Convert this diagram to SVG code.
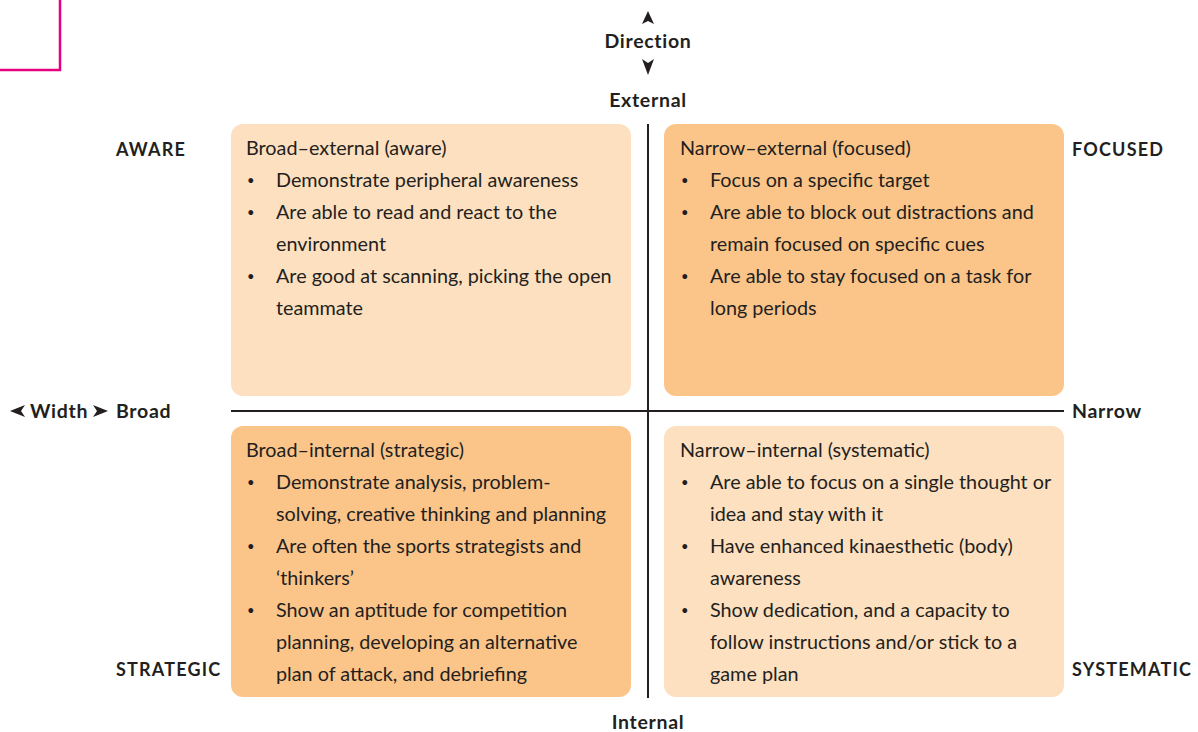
<svg xmlns="http://www.w3.org/2000/svg" width="1198" height="732" viewBox="0 0 1198 732">
<style>
.t{font-family:Lato,"Noto Sans",sans-serif;font-size:19.8px;fill:#231f20}
.bu{font-size:13px}
.b{font-family:Lato,"Noto Sans",sans-serif;font-size:18px;font-weight:bold;fill:#231f20;letter-spacing:1.2px}
.w{font-size:19.5px;letter-spacing:0.7px}
.light{fill:#fde0bf}
.dark{fill:#fbc58a}
.ax{stroke:#231f20;stroke-width:2;fill:none}
.ah{fill:#231f20}
</style>
<g id="corner"><path d="M0 70 H60 V0" fill="none" stroke="#e6007e" stroke-width="2.5"/></g>
<g id="connectors">
<line class="ax" x1="648" y1="124" x2="648" y2="698"/>
<line class="ax" x1="231" y1="411" x2="1064" y2="411"/>
</g>
<g id="axis-labels">
<path class="ah" d="M648 11 L654 24 L648 21 L642 24 Z"/>
<text class="b w" x="648" y="48" text-anchor="middle">Direction</text>
<path class="ah" d="M648 75 L654 59 L648 63 L642 59 Z"/>
<text class="b w" x="648" y="107" text-anchor="middle">External</text>
<text class="b w" x="648" y="729" text-anchor="middle">Internal</text>
<path class="ah" d="M10 411 L25 405 L21 411 L25 417 Z"/>
<text class="b w" x="30" y="418">Width</text>
<path class="ah" d="M108 411 L93 405 L97 411 L93 417 Z"/>
<text class="b w" x="116" y="418">Broad</text>
<text class="b w" x="1072" y="418">Narrow</text>
<text class="b" x="116" y="156">AWARE</text>
<text class="b" x="1072" y="156">FOCUSED</text>
<text class="b" x="116" y="676">STRATEGIC</text>
<text class="b" x="1072" y="676">SYSTEMATIC</text>
</g>
<g id="aware">
<rect class="light" x="231" y="124" width="400" height="272" rx="12"/>
<text class="t"><tspan x="246" y="155">Broad–external (aware)</tspan>
<tspan class="bu" x="247" y="185">•</tspan><tspan x="276" y="187">Demonstrate peripheral awareness</tspan>
<tspan class="bu" x="247" y="217">•</tspan><tspan x="276" y="219">Are able to read and react to the</tspan>
<tspan x="276" y="251">environment</tspan>
<tspan class="bu" x="247" y="281">•</tspan><tspan x="276" y="283">Are good at scanning, picking the open</tspan>
<tspan x="276" y="315">teammate</tspan></text>
</g>
<g id="focused">
<rect class="dark" x="664" y="124" width="400" height="272" rx="12"/>
<text class="t"><tspan x="680" y="155">Narrow–external (focused)</tspan>
<tspan class="bu" x="681" y="185">•</tspan><tspan x="710" y="187">Focus on a specific target</tspan>
<tspan class="bu" x="681" y="217">•</tspan><tspan x="710" y="219">Are able to block out distractions and</tspan>
<tspan x="710" y="251">remain focused on specific cues</tspan>
<tspan class="bu" x="681" y="281">•</tspan><tspan x="710" y="283">Are able to stay focused on a task for</tspan>
<tspan x="710" y="315">long periods</tspan></text>
</g>
<g id="strategic">
<rect class="dark" x="231" y="426" width="400" height="271" rx="12"/>
<text class="t"><tspan x="246" y="457">Broad–internal (strategic)</tspan>
<tspan class="bu" x="247" y="487">•</tspan><tspan x="276" y="489">Demonstrate analysis, problem-</tspan>
<tspan x="276" y="521">solving, creative thinking and planning</tspan>
<tspan class="bu" x="247" y="551">•</tspan><tspan x="276" y="553">Are often the sports strategists and</tspan>
<tspan x="276" y="585">‘thinkers’</tspan>
<tspan class="bu" x="247" y="615">•</tspan><tspan x="276" y="617">Show an aptitude for competition</tspan>
<tspan x="276" y="649">planning, developing an alternative</tspan>
<tspan x="276" y="681">plan of attack, and debriefing</tspan></text>
</g>
<g id="systematic">
<rect class="light" x="664" y="426" width="400" height="271" rx="12"/>
<text class="t"><tspan x="680" y="457">Narrow–internal (systematic)</tspan>
<tspan class="bu" x="681" y="487">•</tspan><tspan x="710" y="489">Are able to focus on a single thought or</tspan>
<tspan x="710" y="521">idea and stay with it</tspan>
<tspan class="bu" x="681" y="551">•</tspan><tspan x="710" y="553">Have enhanced kinaesthetic (body)</tspan>
<tspan x="710" y="585">awareness</tspan>
<tspan class="bu" x="681" y="615">•</tspan><tspan x="710" y="617">Show dedication, and a capacity to</tspan>
<tspan x="710" y="649">follow instructions and/or stick to a</tspan>
<tspan x="710" y="681">game plan</tspan></text>
</g>
</svg>
